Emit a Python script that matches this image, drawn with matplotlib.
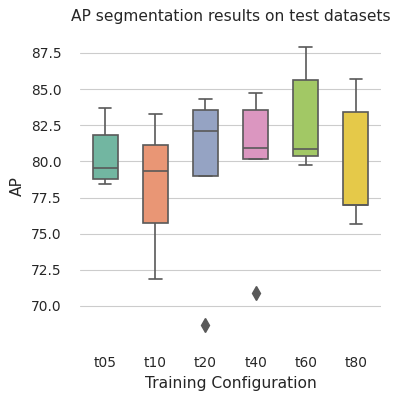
import colorsys
import matplotlib
matplotlib.use("Agg")
import matplotlib.pyplot as plt
import seaborn as sns
import pandas as pd

# AP per test dataset for each training configuration
configs = ["t05", "t10", "t20", "t40", "t60", "t80"]
ap_t05 = [78.40, 78.79, 79.57, 81.81, 83.70]
ap_t10 = [71.90, 75.75, 79.32, 81.14, 83.28]
ap_t20 = [68.68, 78.97, 82.11, 83.56, 84.30]
ap_t40 = [70.91, 80.15, 80.89, 83.56, 84.74]
ap_t60 = [79.74, 80.36, 80.84, 85.59, 87.91]
ap_t80 = [75.70, 76.95, 76.95, 83.40, 85.66]

rows = []
for name, vals in zip(configs, [ap_t05, ap_t10, ap_t20, ap_t40, ap_t60, ap_t80]):
    for v in vals:
        rows.append({"Training Configuration": name, "AP": v})
df = pd.DataFrame(rows)

sns.set_theme(context="paper", style="whitegrid")
plt.rcParams.update({
    "axes.titlesize": 11.2,
    "axes.labelsize": 11.2,
    "xtick.labelsize": 9.9,
    "ytick.labelsize": 9.9,
    "xtick.major.pad": 7.8,
    "ytick.major.pad": 8.5,
})

palette = sns.color_palette("Set2", len(configs))
# same darkened gray seaborn uses for the box outlines
lum = min(colorsys.rgb_to_hls(*c)[1] for c in palette) * 0.6
gray = (lum, lum, lum)

fig = plt.figure(figsize=(3.93, 3.94), dpi=100)
ax = fig.add_axes([0.2036, 0.1396, 0.7659, 0.7766])
sns.boxplot(data=df, x="Training Configuration", y="AP", hue="Training Configuration",
            palette=palette, width=0.5, linewidth=1.2, ax=ax, legend=False,
            flierprops={"marker": "d", "markersize": 7.5,
                        "markerfacecolor": gray, "markeredgecolor": gray})
ax.set_title("AP segmentation results on test datasets", pad=8.5)
sns.despine(ax=ax, left=True, bottom=True)
fig.savefig("out.png", dpi=100)
